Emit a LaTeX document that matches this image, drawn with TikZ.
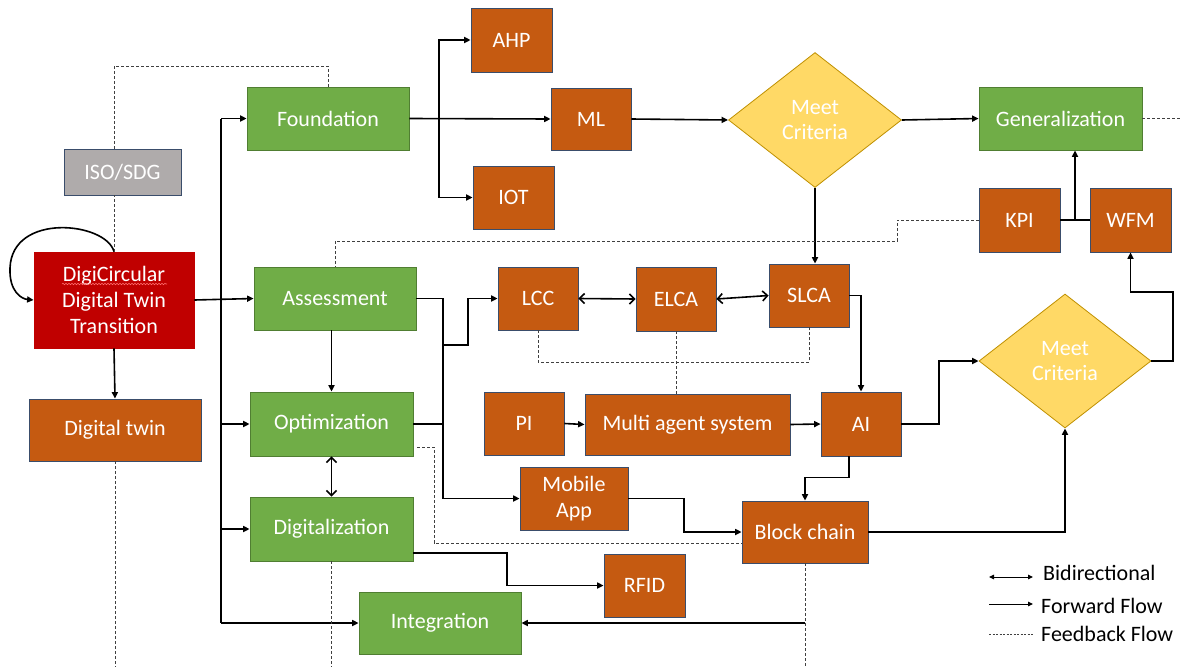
\documentclass[tikz,border=0pt]{standalone}
\usepackage{fontspec}
\setmainfont{Carlito}
\usetikzlibrary{arrows.meta,shapes.geometric,decorations.pathmorphing}

\definecolor{greenfill}{HTML}{70AD47}
\definecolor{greenline}{HTML}{507E32}
\definecolor{orangefill}{HTML}{C55A11}
\definecolor{boxline}{HTML}{3A4D6B}
\definecolor{redfill}{HTML}{C00000}
\definecolor{grayfill}{HTML}{AFABAB}
\definecolor{yellowfill}{HTML}{FFD966}
\definecolor{yellowline}{HTML}{BF9000}
\definecolor{fbgray}{HTML}{404040}

\tikzset{
  box/.style={draw, line width=0.8pt, inner sep=0pt, text=white, align=center,
              font=\fontsize{22}{26}\selectfont},
  greenbox/.style={box, fill=greenfill, draw=greenline},
  orangebox/.style={box, fill=orangefill, draw=boxline},
  redbox/.style={box, fill=redfill, draw=redfill},
  graybox/.style={box, fill=grayfill, draw=boxline},
  decision/.style={diamond, draw=yellowline, fill=yellowfill, line width=0.8pt,
              inner sep=0pt, text=white, align=center,
              font=\fontsize{22}{25}\selectfont},
  fwd/.style={line width=1.6pt, -{Triangle[length=6.5pt,width=6pt]}},
  plain/.style={line width=1.6pt},
  bidir/.style={line width=1.6pt,
              {Straight Barb[length=5pt,width=10pt]}-{Straight Barb[length=5pt,width=10pt]}},
  fb/.style={draw=fbgray, line width=1pt, dash pattern=on 3pt off 2pt},
  legendtext/.style={anchor=west, inner sep=0pt, font=\fontsize{22}{26}\selectfont}
}

\begin{document}
\begin{tikzpicture}[x=1pt, y=-1pt]
  \useasboundingbox (0,0) rectangle (1181,667);
  \fill[white] (0,0) rectangle (1181,667);

  % ---- nodes ----
  \node[graybox,   minimum width=117pt, minimum height=46pt] (iso)    at (122.5,172) {ISO/SDG};
  \node[redbox,    minimum width=160pt, minimum height=96pt] (digi)   at (114,300)
        {DigiCircular\\Digital Twin\\Transition};
  \node[orangebox, minimum width=172pt, minimum height=62pt] (dtwin)  at (115,430) {Digital twin};

  \node[greenbox,  minimum width=162pt, minimum height=63pt] (found)  at (328,118.5) {Foundation};
  \node[greenbox,  minimum width=162pt, minimum height=63pt] (assess) at (335,298.5) {Assessment};
  \node[greenbox,  minimum width=163pt, minimum height=64pt] (optim)  at (331.5,424) {Optimization};
  \node[greenbox,  minimum width=163pt, minimum height=64pt] (digit)  at (331.5,529) {Digitalization};
  \node[greenbox,  minimum width=162pt, minimum height=62pt] (integ)  at (440,623) {Integration};

  \node[orangebox, minimum width=81pt, minimum height=64pt] (ahp) at (511.5,40) {AHP};
  \node[orangebox, minimum width=80pt, minimum height=62pt] (ml)  at (591,119) {ML};
  \node[orangebox, minimum width=81pt, minimum height=63pt] (iot) at (513.5,197.5) {IOT};

  \node[decision, minimum width=173pt, minimum height=135pt] (mc1) at (815,120) {Meet\\Criteria};
  \node[greenbox,  minimum width=163pt, minimum height=63pt] (gen) at (1060.5,118.5) {Generalization};
  \node[orangebox, minimum width=81pt, minimum height=64pt] (kpi) at (1019.5,220) {KPI};
  \node[orangebox, minimum width=81pt, minimum height=64pt] (wfm) at (1130.5,220) {WFM};

  \node[orangebox, minimum width=80pt, minimum height=63pt] (lcc)  at (538,298.5) {LCC};
  \node[orangebox, minimum width=80pt, minimum height=64pt] (elca) at (676,299) {ELCA};
  \node[orangebox, minimum width=80pt, minimum height=63pt] (slca) at (809,295.5) {SLCA};

  \node[orangebox, minimum width=80pt,  minimum height=63pt] (pi)  at (524,423.5) {PI};
  \node[orangebox, minimum width=205pt, minimum height=61pt] (mas) at (687.5,424.5) {Multi agent system};
  \node[orangebox, minimum width=80pt,  minimum height=64pt] (ai)  at (861,424) {AI};

  \node[decision, minimum width=172pt, minimum height=134pt] (mc2) at (1065,361) {Meet\\Criteria};

  \node[orangebox, minimum width=108pt, minimum height=63pt] (mobile) at (574,498.5) {Mobile\\App};
  \node[orangebox, minimum width=126pt, minimum height=62pt] (block)  at (805,532) {Block chain};
  \node[orangebox, minimum width=81pt,  minimum height=63pt] (rfid)   at (644.5,585.5) {RFID};

  % spell-check squiggle under the first word
  \draw[decorate, decoration={snake, amplitude=0.7pt, segment length=3pt},
        draw={rgb,255:red,255;green,110;blue,110}, line width=0.6pt] (62,284) -- (167,284);

  % ---- junction points ----
  \coordinate (tTop) at (221,118.5);
  \coordinate (tBot) at (221,623);
  \coordinate (fj)   at (439,118.5);
  \coordinate (aj)   at (443,298.5);
  \coordinate (lj)   at (443,345);
  \coordinate (kw)   at (1075,220);
  \coordinate (bj)   at (block.south |- integ.east);

  % ---- forward flow ----
  \draw[fwd] (digi.north) .. controls (106,222) and (12,212) .. (10,268)
             .. controls (9,292) and (22,299) .. (digi.west);
  \draw[fwd] (digi.south) -- (dtwin.north);
  \draw[fwd] (digi.east) -- (assess.west);
  \draw[plain] (tTop) -- (tBot);
  \draw[fwd] (tTop) -- (found.west);
  \draw[fwd] (tTop |- optim.west) -- (optim.west);
  \draw[fwd] (tTop |- digit.west) -- (digit.west);
  \draw[fwd] (tBot) -- (integ.west);

  \draw[fwd] (found.east) -- (ml.west);
  \draw[fwd] (fj) |- (ahp.west);
  \draw[fwd] (fj) |- (iot.west);
  \draw[fwd] (ml.east) -- (mc1.west);
  \draw[fwd] (mc1.east) -- (gen.west);
  \draw[fwd] (mc1.south) -- (mc1.south |- slca.north);

  \draw[plain] (kpi.east) -- (wfm.west);
  \draw[fwd] (kw) -- (kw |- gen.south);

  \draw[fwd] (optim.north |- assess.south) -- (optim.north);
  \draw[bidir] (optim.south) -- (digit.north);

  \draw[fwd] (assess.east) -- (aj) |- (mobile.west);
  \draw[fwd] (lj) -- (468,345) |- (lcc.west);
  \draw[plain] (optim.east) -- (optim.east -| aj);

  \draw[bidir] (lcc.east) -- (elca.west);
  \draw[bidir] (elca.east) -- (slca.west);
  \draw[fwd] (slca.east) -| (ai.north);

  \draw[fwd] (pi.east) -- (mas.west);
  \draw[fwd] (mas.east) -- (ai.west);
  \draw[fwd] (ai.east) -- (939,424) |- (mc2.west);
  \draw[fwd] (mc2.east) -| (1173,292) -| (wfm.south);
  \draw[fwd] ([xshift=-12pt]ai.south) -- ++(0,21) -| (block.north);

  \draw[fwd] (mobile.east) -- (684,498.5) |- (block.west);
  \draw[fwd] (block.east) -| (mc2.south);
  \draw[fwd] ([yshift=-24pt]digit.east) -- (507,553) |- (rfid.west);
  \draw[fwd] (bj) -- (integ.east);

  % ---- feedback flow ----
  \draw[fb] (digi.north) -- (iso.south -| digi.north);
  \draw[fb] (iso.north -| digi.north) -- (114,66) -| (found.north);
  \draw[fb] (dtwin.south) -- (115,667);
  \draw[fb] (digit.south) -- (331.5,667);
  \draw[fb] (block.south) -- (805,667);
  \draw[fb] (gen.east) -- (1181,118.5);
  \draw[fb] (kpi.west) -| (897,241) -| (assess.north);
  \draw[fb] (lcc.south) -- ++(0,32) -| (slca.south);
  \draw[fb] (elca.south) -- (elca.south |- mas.north);
  \draw[fb] ([xshift=4pt,yshift=-23pt]optim.east) -- (434,447) |- ([yshift=-11pt]block.west);

  % ---- legend ----
  \coordinate (b1) at (989,577);  \coordinate (b2) at (1033,577);
  \coordinate (f1) at (989,604);  \coordinate (f2) at (1033,604);
  \coordinate (d1) at (989,634);  \coordinate (d2) at (1033,634);
  \draw[line width=1pt, {Triangle[length=5pt,width=4.5pt]}-{Triangle[length=5pt,width=4.5pt]}] (b1) -- (b2);
  \draw[line width=1pt, -{Triangle[length=5pt,width=4.5pt]}] (f1) -- (f2);
  \draw[fb, line width=0.7pt, dash pattern=on 2pt off 1.5pt] (d1) -- (d2);
  \node[legendtext] (lb) at (1043,573) {Bidirectional};
  \node[legendtext] (lf) at (1041,606) {Forward Flow};
  \node[legendtext] (ld) at (1041,634) {Feedback Flow};
\end{tikzpicture}
\end{document}
